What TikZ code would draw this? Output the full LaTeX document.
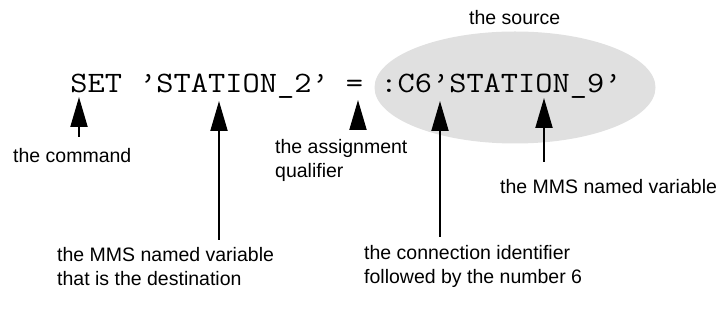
\documentclass[tikz,border=0pt]{standalone}
\usepackage{fontspec}
\setmainfont{Liberation Sans}
\newfontfamily\codefont{Latin Modern Mono}[FakeStretch=1.13]
\usetikzlibrary{arrows.meta,shapes.geometric}
\definecolor{srcgray}{RGB}{224,224,224}
\begin{document}
\begin{tikzpicture}[x=1pt,y=-1pt,
  lbl/.style={inner sep=0pt, font=\fontsize{19.5}{24}\selectfont, align=left},
  code/.style={inner sep=0pt, font=\fontsize{29.6}{32}\selectfont\codefont},
  arr/.style={line width=2pt, -{Triangle[length=30pt,width=17pt]}}]
\useasboundingbox (0,0) rectangle (726,328);
\node[ellipse, fill=srcgray, inner sep=0pt, minimum width=281pt, minimum height=112pt] (src) at (515,87.5) {};
\node[lbl, anchor=base] (srclbl) at (514.7,25) {the source};
\node[code, anchor=base west] (code) at (70.2,93) {SET ’STATION\_2’ = :C6’STATION\_9’};
\node[lbl, anchor=base west] (cmd) at (13,163) {the command};
\node[lbl, anchor=base west] (asg) at (275,178) {the assignment\\qualifier};
\node[lbl, anchor=base west] (mmsr) at (500,194) {the MMS named variable};
\node[lbl, anchor=base west] (dest) at (57,286) {the MMS named variable\\that is the destination};
\node[lbl, anchor=base west] (conn) at (364,284) {the connection identifier\\followed by the number 6};
\coordinate (t1) at (79,97);
\coordinate (t2) at (219,101);
\coordinate (t3) at (358,100);
\coordinate (t4) at (440,101);
\coordinate (t5) at (544,98);
\draw[arr, shorten <=12pt] (t1 |- cmd.north) -- (t1);
\draw[arr, shorten <=8pt] (t2 |- dest.north) -- (t2);
\draw[arr, shorten <=17pt] (t3 |- asg.north) -- (t3);
\draw[arr, shorten <=9pt] (t4 |- conn.north) -- (t4);
\draw[arr, shorten <=18pt] (t5 |- mmsr.north) -- (t5);
\end{tikzpicture}
\end{document}
